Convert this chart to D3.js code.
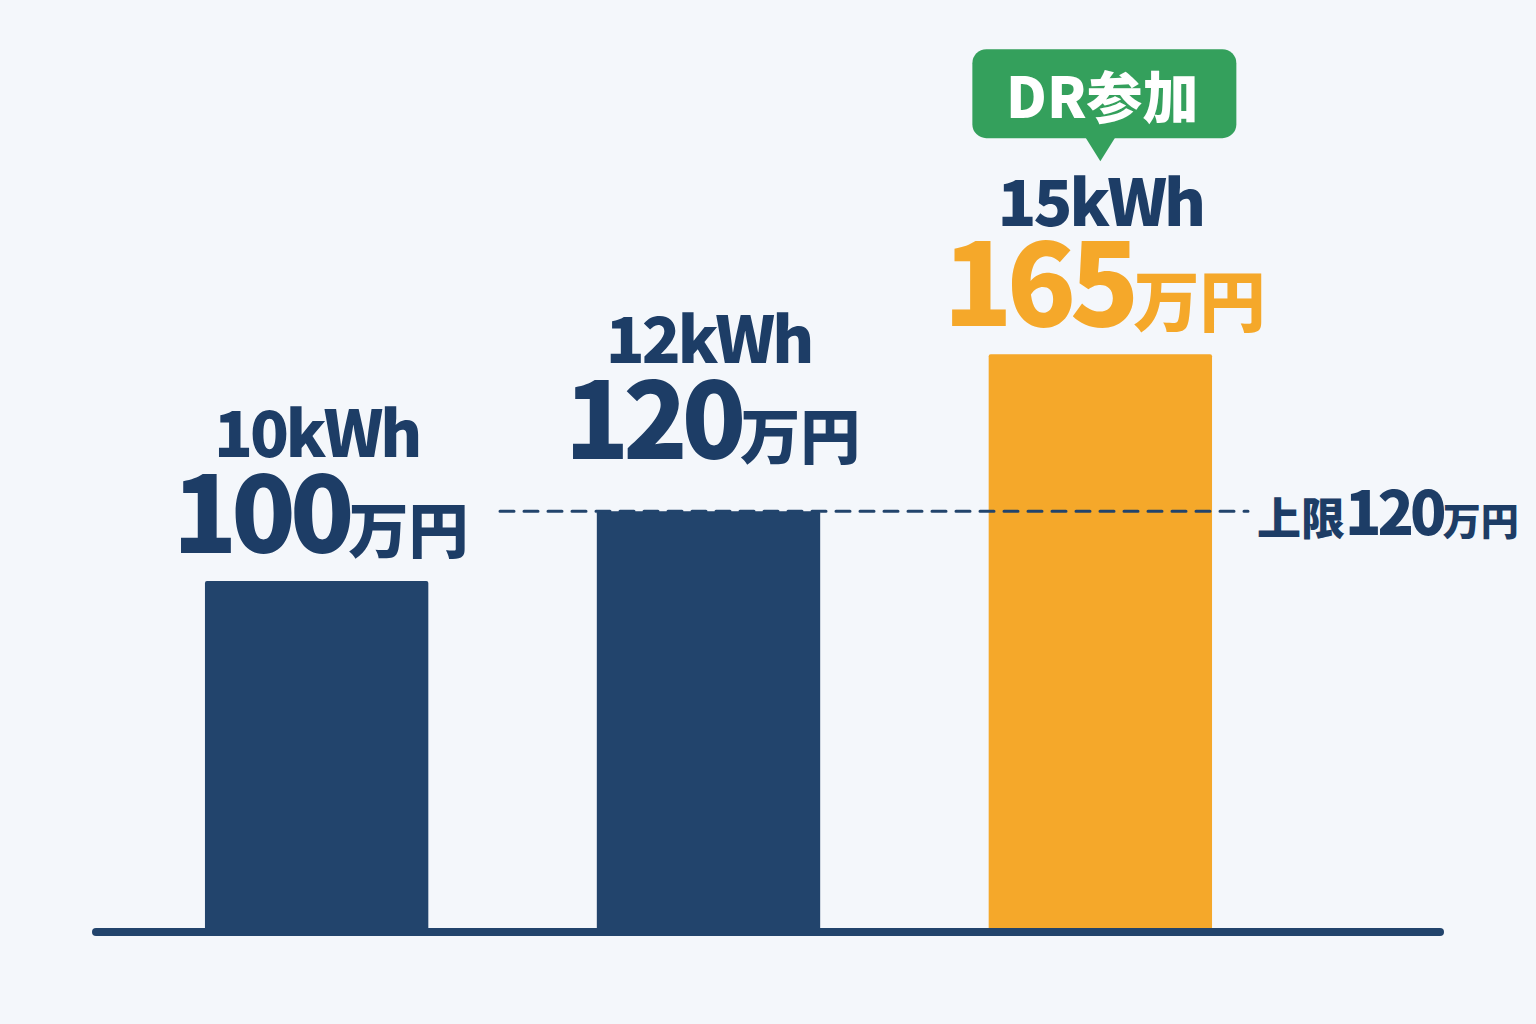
<!DOCTYPE html>
<html>
<head>
<meta charset="utf-8">
<script src="https://cdn.jsdelivr.net/npm/d3@7"></script>
<style>
  html, body { margin: 0; padding: 0; background: #f4f7fb; }
  svg { display: block; }
  text { font-family: "Noto Sans CJK JP", "Noto Sans", sans-serif; font-weight: 900; }
</style>
</head>
<body>
<svg id="chart"></svg>
<script>
// capacity options and the subsidy for each (万円)
const categories = ['10kWh', '12kWh', '15kWh'];
const amounts = [100, 120, 165];
const drFlags = [false, false, true];
const capAmount = 120;
const capLabel = '上限';
const unitLabel = '万円';
const calloutLabel = 'DR参加';

const width = 1536;
const height = 1024;
const navy = '#22446c';
const textNavy = '#1d3d66';
const orange = '#f5a82a';
const green = '#34a05c';

const svg = d3.select('#chart')
  .attr('width', width)
  .attr('height', height)
  .attr('viewBox', `0 0 ${width} ${height}`);

svg.append('rect')
  .attr('width', width)
  .attr('height', height)
  .attr('fill', '#f4f7fb');

const data = categories.map((c, i) => ({ cat: c, amount: amounts[i], dr: drFlags[i] }));

const xScale = d3.scaleBand()
  .domain(categories)
  .range([107, 1310])
  .paddingInner(0.43)
  .paddingOuter(0.25);

const yScale = d3.scaleLinear()
  .domain([0, 200])
  .range([930, 232]);

// bars
svg.selectAll('.bar')
  .data(data)
  .enter()
  .append('rect')
  .attr('class', 'bar')
  .attr('x', d => xScale(d.cat))
  .attr('y', d => yScale(d.amount))
  .attr('width', xScale.bandwidth())
  .attr('height', d => yScale(0) - yScale(d.amount) + 2)
  .attr('rx', 2)
  .attr('fill', d => d.dr ? orange : navy);

// baseline
svg.append('line')
  .attr('x1', 96)
  .attr('x2', 1440)
  .attr('y1', yScale(0) + 2)
  .attr('y2', yScale(0) + 2)
  .attr('stroke', navy)
  .attr('stroke-width', 8)
  .attr('stroke-linecap', 'round');

// cap line
const capY = yScale(capAmount);
svg.append('line')
  .attr('x1', 500)
  .attr('x2', 1248)
  .attr('y1', capY)
  .attr('y2', capY)
  .attr('stroke', navy)
  .attr('stroke-width', 3)
  .attr('stroke-dasharray', '14 10')
  .attr('stroke-linecap', 'round');

const capText = svg.append('text')
  .attr('x', 1257)
  .attr('y', capY + 24)
  .attr('fill', textNavy);
capText.append('tspan').attr('font-size', 44).text(capLabel);
capText.append('tspan').attr('font-size', 60).attr('letter-spacing', -4).text(capAmount);
capText.append('tspan').attr('font-size', 38).text(unitLabel);

// labels above each bar (the capped bar's label is lifted over the dashed line)
const labelTop = d => yScale(d.amount) - (d.amount === capAmount ? 52 : 28);

const groups = svg.selectAll('.label')
  .data(data)
  .enter()
  .append('g')
  .attr('class', 'label')
  .attr('transform', d => `translate(${xScale(d.cat) + xScale.bandwidth() / 2},0)`);

groups.append('text')
  .attr('text-anchor', 'middle')
  .attr('y', d => labelTop(d) - (d.dr ? 100 : 96))
  .attr('font-size', 64)
  .attr('letter-spacing', -3)
  .attr('fill', textNavy)
  .text(d => d.cat);

const amountText = groups.append('text')
  .attr('text-anchor', 'middle')
  .attr('x', 4)
  .attr('y', d => labelTop(d))
  .attr('fill', d => d.dr ? orange : textNavy);
amountText.append('tspan')
  .attr('font-size', d => d.dr ? 114 : 106)
  .attr('letter-spacing', -6)
  .text(d => d.amount);
amountText.append('tspan')
  .attr('font-size', d => d.dr ? 66 : 60)
  .text(unitLabel);

// DR callout
const dr = data.filter(d => d.dr);
const callout = svg.selectAll('.callout')
  .data(dr)
  .enter()
  .append('g')
  .attr('class', 'callout')
  .attr('transform', d => `translate(${xScale(d.cat) + xScale.bandwidth() / 2},${labelTop(d) - 100 - 65})`);

callout.append('rect')
  .attr('x', -128)
  .attr('y', -112)
  .attr('width', 264)
  .attr('height', 89)
  .attr('rx', 14)
  .attr('fill', green);

callout.append('path')
  .attr('d', 'M-15,-24 L15,-24 L0,0 Z')
  .attr('fill', green);

callout.append('text')
  .attr('text-anchor', 'middle')
  .attr('x', 2)
  .attr('y', -43)
  .attr('font-size', 56)
  .attr('fill', '#ffffff')
  .text(calloutLabel);
</script>
</body>
</html>
